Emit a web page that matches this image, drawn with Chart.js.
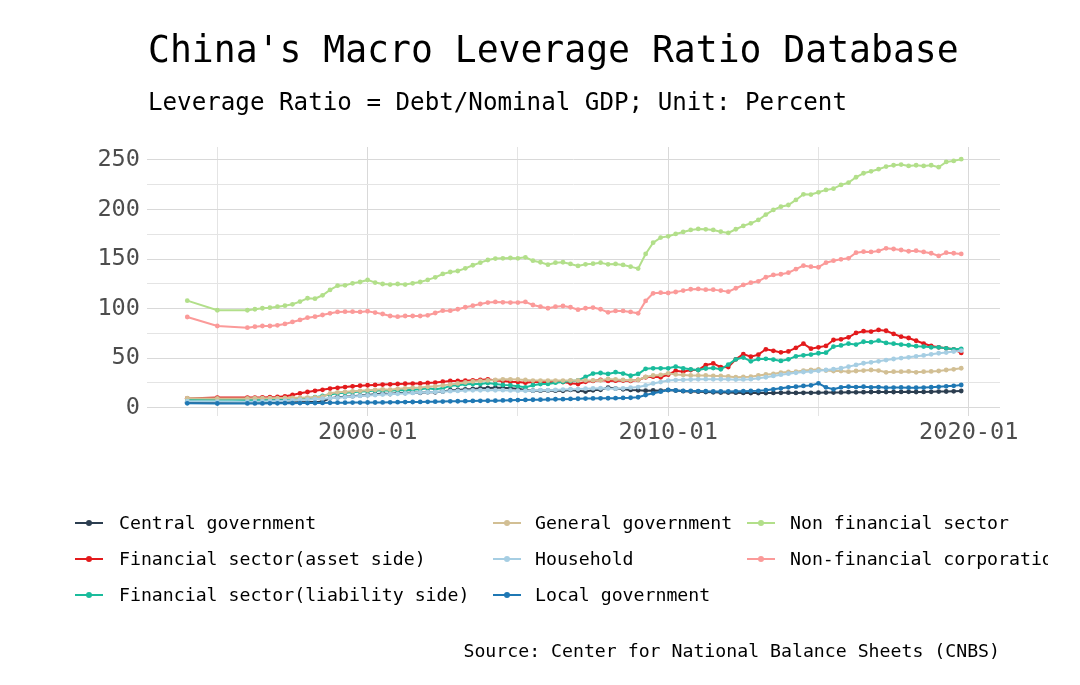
<!DOCTYPE html>
<html>
<head>
<meta charset="utf-8">
<script src="https://cdn.jsdelivr.net/npm/chart.js@4.4.1/dist/chart.umd.min.js"></script>
<style>
  html, body { margin: 0; padding: 0; background: #fff; }
  body { width: 1080px; height: 685px; position: relative; overflow: hidden; font-family: "DejaVu Sans Mono", monospace; color: #000; }
  #chart { position: absolute; left: 0; top: 0; }
  .txt { position: absolute; white-space: nowrap; line-height: 1; }
  #title { left: 148px; top: 32px; font-size: 36.4px; }
  #subtitle { left: 148px; top: 90px; font-size: 24.2px; }
  #source { right: 80px; top: 642px; font-size: 18.2px; }
  .item { position: absolute; height: 22px; white-space: nowrap; overflow: hidden; }
  .key { position: absolute; top: 9px; width: 28px; height: 2px; }
  .dot { position: absolute; top: -2px; left: 11px; width: 6px; height: 6px; border-radius: 3px; }
  .lab { position: absolute; top: 1px; font-size: 18.2px; line-height: 1; }
</style>
</head>
<body>
<canvas id="chart" width="1080" height="685"></canvas>
<div class="txt" id="title">China's Macro Leverage Ratio Database</div>
<div class="txt" id="subtitle">Leverage Ratio = Debt/Nominal GDP; Unit: Percent</div>
<div id="legend"></div>
<div class="txt" id="source">Source: Center for National Balance Sheets (CNBS)</div>
<script>
// dates: annual to 1995, quarterly after
var dates = ['1993-12', '1994-12', '1995-12',
  '1996-03', '1996-06', '1996-09', '1996-12', '1997-03', '1997-06', '1997-09', '1997-12',
  '1998-03', '1998-06', '1998-09', '1998-12', '1999-03', '1999-06', '1999-09', '1999-12',
  '2000-03', '2000-06', '2000-09', '2000-12', '2001-03', '2001-06', '2001-09', '2001-12',
  '2002-03', '2002-06', '2002-09', '2002-12', '2003-03', '2003-06', '2003-09', '2003-12',
  '2004-03', '2004-06', '2004-09', '2004-12', '2005-03', '2005-06', '2005-09', '2005-12',
  '2006-03', '2006-06', '2006-09', '2006-12', '2007-03', '2007-06', '2007-09', '2007-12',
  '2008-03', '2008-06', '2008-09', '2008-12', '2009-03', '2009-06', '2009-09', '2009-12',
  '2010-03', '2010-06', '2010-09', '2010-12', '2011-03', '2011-06', '2011-09', '2011-12',
  '2012-03', '2012-06', '2012-09', '2012-12', '2013-03', '2013-06', '2013-09', '2013-12',
  '2014-03', '2014-06', '2014-09', '2014-12', '2015-03', '2015-06', '2015-09', '2015-12',
  '2016-03', '2016-06', '2016-09', '2016-12', '2017-03', '2017-06', '2017-09', '2017-12',
  '2018-03', '2018-06', '2018-09', '2018-12', '2019-03', '2019-06', '2019-09'];

var centralGov = [5.4, 5.2, 5.3,
  5.3, 5.2, 5.3, 5.4, 5.3, 5.4, 5.5, 5.6, 5.6, 6.2, 9.5, 10.5, 11.0, 11.6, 12.2, 12.8,
  13.6, 14.3, 13.8, 14.9, 14.8, 15.2, 15.0, 15.6, 15.5,
  16.3, 17.6, 17.9, 18.5, 18.9, 19.5, 19.8, 20.2, 20.1, 19.5, 19.0, 17.9,
  17.2, 17.2, 17.3, 17.2, 17.1, 17.9, 17.0, 16.3, 17.5, 18.0, 20.3, 19.3, 18.5, 17.9, 17.6,
  17.2, 17.4, 17.2, 17.8, 17.3, 16.6, 16.3, 16.1, 15.7, 15.5, 15.3, 15.2,
  15.1, 14.9, 14.8, 14.8, 14.8, 14.9, 15.0, 15.1, 14.9, 15.0, 15.0, 15.1, 15.2, 15.2, 15.4, 15.6,
  15.5, 15.6, 15.8, 15.9, 15.7, 15.8, 15.9, 16.0, 15.8, 15.9, 16.0, 16.2, 16.3, 16.5, 16.8];

var finAsset = [9.3, 10.2, 10.2,
  10.2, 10.3, 10.5, 10.8, 11.5, 12.8, 14.5, 15.8, 17.0, 18.0, 19.3, 20.0, 20.8, 21.5, 22.2, 22.6,
  23.0, 23.3, 23.6, 23.9, 24.2, 24.3, 24.5, 24.9, 25.3,
  26.2, 26.9, 26.9, 27.2, 27.6, 27.9, 28.6, 27.4, 26.9, 26.2, 25.9, 25.2,
  25.9, 25.9, 25.9, 25.9, 25.9, 24.6, 23.9, 26.1, 27.0, 28.0, 27.0, 27.2, 27.3, 27.0, 28.0,
  30.7, 31.3, 30.7, 33.3, 37.2, 36.3, 38.0, 38.0, 43.0, 44.6, 40.8, 41.0,
  48.8, 54.0, 51.5, 53.5, 58.9, 57.4, 55.8, 56.8, 60.4, 64.6, 59.5, 60.9, 62.3, 68.3, 69.0, 71.0,
  75.4, 77.2, 76.8, 78.4, 77.6, 74.4, 71.6, 70.3, 67.5, 64.7, 62.3, 60.9, 59.9, 58.9, 55.2];

var finLiability = [7.8, 8.2, 7.8,
  7.8, 7.8, 7.8, 7.8, 7.9, 8.3, 8.7, 9.5, 10.5, 11.8, 13.3, 14.5, 15.0, 15.6, 16.2, 16.6,
  17.2, 17.5, 17.0, 17.9, 17.5, 18.2, 18.5, 19.5, 18.5,
  19.5, 22.0, 22.7, 23.7, 23.8, 24.0, 24.8, 23.8, 23.0, 22.5, 21.5, 20.5,
  22.7, 23.8, 24.0, 25.2, 26.0, 26.9, 27.4, 31.0, 34.4, 35.0, 34.0, 35.8, 34.4, 32.2, 34.0,
  39.2, 39.7, 39.7, 39.7, 41.4, 39.7, 38.7, 38.0, 39.5, 40.0, 38.7, 43.5,
  48.8, 50.5, 46.8, 49.0, 49.3, 48.5, 47.2, 48.8, 51.8, 52.8, 53.6, 54.9, 55.5, 61.6, 62.8, 64.6,
  63.7, 66.5, 66.1, 67.6, 65.3, 64.6, 63.7, 63.0, 62.0, 61.6, 60.9, 60.9, 59.9, 58.9, 59.4];

var generalGov = [9.5, 9.3, 9.3,
  9.5, 9.5, 9.6, 9.7, 9.8, 9.9, 10.0, 10.2, 10.4, 11.0, 14.5, 15.5, 16.0, 16.5, 17.0, 17.5,
  18.0, 18.5, 18.2, 19.0, 19.5, 20.0, 20.3, 21.0, 21.5,
  22.5, 23.5, 24.5, 25.5, 26.5, 27.0, 27.5, 28.0, 28.6, 28.6, 28.5, 27.9,
  27.3, 27.3, 27.3, 27.3, 27.3, 27.5, 27.5, 27.5, 27.5, 27.6, 29.0, 28.5, 28.0, 27.6, 28.0,
  31.0, 32.5, 33.0, 34.7, 33.5, 33.0, 32.5, 32.5, 32.5, 32.0, 32.0, 31.5,
  30.7, 31.0, 31.3, 32.5, 33.5, 34.0, 35.4, 36.0, 36.3, 37.4, 38.0, 38.7, 37.4, 37.0, 37.0, 36.3,
  37.0, 37.4, 38.0, 37.4, 35.7, 36.3, 36.3, 36.6, 35.7, 36.3, 36.6, 37.0, 38.0, 38.7, 39.8];

var household = [6.5, 6.2, 6.0,
  6.1, 6.3, 6.6, 6.8, 7.0, 7.4, 7.8, 8.0, 8.5, 9.1, 9.6, 10.0, 10.6, 11.3, 11.9, 12.4,
  12.8, 13.3, 13.6, 14.0, 14.4, 14.9, 15.3, 15.6, 15.9,
  16.3, 16.6, 16.9, 17.3, 17.5, 17.6, 17.8, 17.6, 17.7, 17.4, 17.2, 17.0,
  17.3, 17.7, 17.6, 17.9, 18.3, 18.6, 18.8, 19.2, 19.4, 19.6, 19.3, 19.2, 19.5, 20.2, 20.8,
  22.4, 24.5, 25.8, 27.3, 27.8, 28.1, 28.4, 28.6, 28.8, 28.6, 28.7, 28.6,
  28.3, 28.5, 28.8, 29.6, 30.7, 32.0, 33.3, 34.3, 35.2, 36.0, 36.4, 37.2, 38.0, 38.8, 39.8, 41.4,
  43.1, 44.8, 45.8, 46.8, 48.0, 49.1, 50.0, 50.8, 51.8, 52.7, 53.8, 54.9, 55.6, 56.6, 57.5];

var localGov = [4.4, 4.2, 4.3,
  4.3, 4.3, 4.4, 4.4, 4.5, 4.5, 4.6, 4.6, 4.7, 4.8, 4.9, 5.0, 5.0, 5.1, 5.1, 5.2,
  5.2, 5.3, 5.4, 5.5, 5.6, 5.7, 5.8, 5.9, 6.1,
  6.2, 6.4, 6.5, 6.6, 6.8, 6.9, 7.0, 7.1, 7.3, 7.5, 7.7, 7.8,
  8.0, 8.1, 8.3, 8.5, 8.6, 8.8, 9.0, 9.2, 9.3, 9.4, 9.5, 9.6, 9.8, 10.0, 10.5,
  12.8, 14.5, 16.1, 17.9, 17.4, 17.0, 16.8, 16.7, 16.6, 16.4, 16.3, 16.4,
  16.5, 16.6, 16.8, 17.0, 17.6, 18.5, 19.5, 20.5, 21.2, 21.9, 22.5, 24.6, 20.5, 18.5, 20.5, 21.2,
  20.8, 21.2, 20.5, 20.8, 20.1, 20.3, 20.4, 20.2, 20.1, 20.3, 20.6, 21.0, 21.5, 22.0, 22.9];

var nonFinSector = [108.0, 98.3, 98.3,
  99.3, 100.3, 100.9, 101.9, 102.9, 104.3, 107.0, 110.4, 110.0, 113.4, 118.8, 123.1, 123.4, 125.5, 126.8, 128.9,
  126.2, 124.8, 124.2, 124.8, 124.2, 125.5, 126.8, 128.9, 131.5,
  134.9, 136.9, 137.9, 140.6, 143.7, 146.3, 149.0, 150.4, 150.7, 151.0, 150.7, 151.7,
  148.3, 146.7, 144.3, 146.3, 146.7, 145.0, 143.0, 144.6, 145.3, 146.3, 144.6, 145.0, 144.0, 142.3, 140.3,
  155.1, 166.5, 171.6, 172.9, 175.3, 177.3, 179.3, 180.3, 179.9, 179.3, 177.6, 176.3,
  180.0, 183.4, 186.0, 189.4, 194.8, 199.5, 202.8, 204.5, 209.6, 215.3, 215.0, 217.3, 219.7, 221.0, 224.7, 227.0,
  232.5, 236.5, 238.5, 240.6, 243.2, 244.6, 245.3, 243.9, 244.6, 243.9, 244.6, 242.6, 247.9, 249.0, 250.7];

var nonFinCorp = [91.5, 82.4, 80.7,
  81.7, 82.4, 82.4, 83.1, 84.5, 86.5, 88.5, 90.8, 91.8, 93.5, 95.2, 96.6, 96.9, 96.9, 96.6, 97.3,
  95.9, 94.5, 92.5, 91.8, 92.5, 92.5, 92.5, 93.2, 95.5,
  97.9, 97.9, 99.3, 101.3, 102.9, 104.6, 106.0, 106.7, 106.3, 106.0, 106.0, 106.7,
  103.6, 101.9, 100.3, 101.9, 102.6, 101.3, 98.9, 100.3, 101.0, 99.3, 96.2, 97.6, 97.6, 96.6, 95.2,
  107.7, 115.4, 116.0, 115.7, 116.7, 118.1, 119.5, 119.8, 119.1, 119.1, 118.1, 117.0,
  120.5, 123.8, 126.1, 127.5, 131.6, 133.9, 134.6, 136.2, 139.7, 143.3, 142.3, 141.7, 146.3, 148.3, 149.7, 150.7,
  156.4, 157.4, 157.1, 158.1, 160.8, 160.1, 159.1, 157.8, 158.4, 157.1, 155.8, 153.1, 156.4, 155.8, 155.1];

var seriesNames = ['Central government', 'Financial sector(asset side)', 'Financial sector(liability side)',
  'General government', 'Household', 'Local government', 'Non financial sector', 'Non-financial corporations'];
var seriesValues = [centralGov, finAsset, finLiability, generalGov, household, localGov, nonFinSector, nonFinCorp];
var seriesColors = ['#2c3e50', '#e31a1c', '#1abc9c', '#d2bf94', '#a6cee3', '#1f78b4', '#b2df8a', '#fb9a99'];

var xGridYears = [1995, 2000, 2005, 2010, 2015, 2020];
var xTickValues = [2000, 2010, 2020];
var xTickLabels = ['2000-01', '2010-01', '2020-01'];
var yGridValues = [0, 25, 50, 75, 100, 125, 150, 175, 200, 225, 250];
var yTickValues = [0, 50, 100, 150, 200, 250];

// 'YYYY-MM' -> decimal year at end of month
function toYear(s) {
    var p = s.split('-');
    return Number(p[0]) + Number(p[1]) / 12;
}

var datasets = seriesNames.map(function (name, i) {
    return {
        label: name,
        data: dates.map(function (d, j) { return { x: toYear(d), y: seriesValues[i][j] }; }),
        borderColor: seriesColors[i],
        backgroundColor: seriesColors[i],
        pointBackgroundColor: seriesColors[i],
        borderWidth: 2,
        pointRadius: 2.4,
        pointBorderWidth: 0,
        tension: 0,
        order: seriesNames.length - i
    };
});

var tickFont = { family: 'DejaVu Sans Mono', size: 23.6 };

new Chart(document.getElementById('chart').getContext('2d'), {
    type: 'line',
    data: { datasets: datasets },
    options: {
        responsive: false,
        animation: false,
        devicePixelRatio: 1,
        layout: { padding: { top: 147, right: 80, bottom: 0, left: 0 } },
        plugins: { legend: { display: false }, tooltip: { enabled: false } },
        scales: {
            x: {
                type: 'linear',
                min: 1992.66,
                max: 2021.04,
                afterBuildTicks: function (s) { s.ticks = xGridYears.map(function (v) { return { value: v }; }); },
                afterFit: function (s) { s.height = 269; },
                grid: { color: function (c) { return c.tick && c.tick.value % 10 === 0 ? '#d9d9d9' : '#e4e4e4'; }, drawTicks: false },
                border: { display: false },
                ticks: {
                    autoSkip: false, maxRotation: 0, padding: 3, color: '#4d4d4d', font: tickFont,
                    callback: function (v) { var i = xTickValues.indexOf(v); return i >= 0 ? xTickLabels[i] : ''; }
                }
            },
            y: {
                min: -8.4,
                max: 263,
                afterBuildTicks: function (s) { s.ticks = yGridValues.map(function (v) { return { value: v }; }); },
                afterFit: function (s) { s.width = 147; },
                grid: { color: function (c) { return c.tick && c.tick.value % 50 === 0 ? '#d9d9d9' : '#e4e4e4'; }, drawTicks: false },
                border: { display: false },
                ticks: {
                    autoSkip: false, padding: 7, color: '#4d4d4d', font: tickFont,
                    callback: function (v) { return yTickValues.indexOf(v) >= 0 ? String(v) : ''; }
                }
            }
        }
    }
});

// legend in three columns, filled column by column; the picture is cut at x=1048
var legendCols = [{ key: 75, text: 119 }, { key: 493, text: 535 }, { key: 747, text: 790 }];
var legendRows = [513, 549, 585];
var legend = document.getElementById('legend');
seriesNames.forEach(function (name, i) {
    var col = legendCols[Math.floor(i / 3)], row = legendRows[i % 3];
    var item = document.createElement('div');
    item.className = 'item';
    item.style.left = col.key + 'px';
    item.style.top = row + 'px';
    item.style.width = (1048 - col.key) + 'px';
    item.innerHTML = '<div class="key" style="background:' + seriesColors[i] + '"><div class="dot" style="background:' +
        seriesColors[i] + '"></div></div><div class="lab" style="left:' + (col.text - col.key) + 'px">' + name + '</div>';
    legend.appendChild(item);
});
</script>
</body>
</html>
